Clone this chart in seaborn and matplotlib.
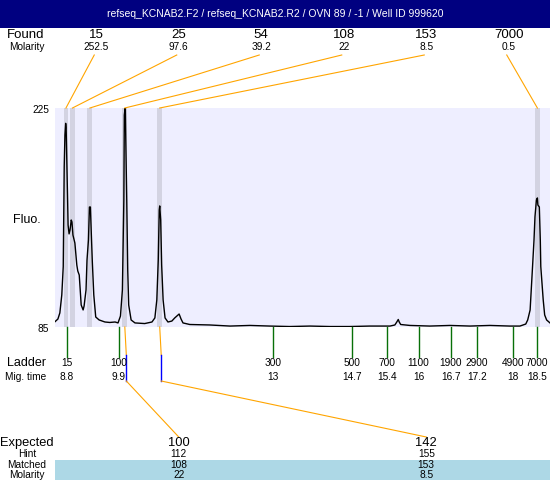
import numpy as np
import pandas as pd
import seaborn as sns
import matplotlib.pyplot as plt
from matplotlib.patches import Rectangle

# electropherogram trace (migration time in min, fluorescence)
trace_time = [8.56, 8.62, 8.66, 8.70, 8.73, 8.75, 8.765, 8.78, 8.79, 8.82, 8.83, 8.85,
              8.87, 8.895, 8.91, 8.93, 8.97, 9.01, 9.03, 9.06, 9.08, 9.10, 9.14, 9.16,
              9.20, 9.22, 9.25, 9.27, 9.29, 9.31, 9.33, 9.36, 9.40, 9.47, 9.59, 9.69,
              9.80, 9.86, 9.91, 9.95, 9.98, 9.99, 10.01, 10.02, 10.04, 10.06, 10.08, 10.13,
              10.21, 10.41, 10.56, 10.62, 10.66, 10.69, 10.71, 10.72, 10.74, 10.76, 10.79, 10.83,
              10.89, 10.97, 11.03, 11.12, 11.16, 11.20, 11.34, 11.75, 12.17, 12.58, 12.99, 13.40,
              13.82, 14.23, 14.64, 15.05, 15.47, 15.57, 15.61, 15.64, 15.66, 15.69, 15.88, 16.29,
              16.71, 17.12, 17.53, 17.94, 18.15, 18.27, 18.31, 18.36, 18.41, 18.44, 18.46, 18.49,
              18.51, 18.52, 18.55, 18.57, 18.58, 18.63, 18.66, 18.70, 18.77]
trace_fluo = [88.4, 90.1, 94.0, 105.5, 123.6, 187.5, 207.8, 215.2, 212.2, 166.2, 150.2, 144.5,
              147.0, 153.4, 152.1, 143.8, 138.7, 124.6, 120.8, 118.2, 108.7, 99.1, 95.9, 98.4,
              108.7, 127.8, 140.6, 161.7, 161.7, 143.8, 126.6, 105.5, 91.4, 89.5, 88.2, 87.9,
              88.2, 87.6, 92.0, 108.7, 166.2, 220.5, 226.0, 204.6, 166.2, 121.4, 99.1, 89.5,
              87.6, 87.2, 88.2, 90.8, 102.3, 127.8, 159.8, 162.4, 153.4, 124.6, 102.3, 90.8,
              88.2, 88.8, 90.8, 93.3, 90.1, 87.6, 86.6, 86.3, 85.6, 86.0, 85.6, 85.3,
              85.6, 85.3, 85.3, 85.6, 85.6, 86.3, 88.2, 89.8, 88.2, 86.6, 86.0, 85.6,
              86.0, 85.6, 86.0, 85.6, 85.6, 86.9, 89.5, 95.9, 123.6, 140.6, 155.5, 166.2,
              167.5, 163.0, 161.7, 140.6, 123.6, 102.3, 92.7, 89.5, 87.6]

found_size = ["15", "25", "54", "108", "153", "7000"]
found_molarity = ["252.5", "97.6", "39.2", "22", "8.5", "0.5"]
found_time = [8.786, 8.92, 9.28, 10.0, 10.72, 18.51]

ladder_size = ["15", "100", "300", "500", "700", "1100", "1900", "2900", "4900", "7000"]
ladder_time = [8.8, 9.88, 13.05, 14.68, 15.4, 16.06, 16.72, 17.26, 18.0, 18.5]
mig_time_text = ["8.8", "9.9", "13", "14.7", "15.4", "16", "16.7", "17.2", "18", "18.5"]

expected_size = ["100", "142"]
hint_size = ["112", "155"]
matched_size = ["108", "153"]
matched_molarity = ["22", "8.5"]
matched_peak = [3, 4]  # index into found_*

title = "refseq_KCNAB2.F2 / refseq_KCNAB2.R2 / OVN 89 / -1 / Well ID 999620"

plt.rcParams['font.family'] = ['Liberation Sans', 'DejaVu Sans']

W, H = 550, 480
fig = plt.figure(figsize=(5.5, 4.8), dpi=100)
fig.patch.set_facecolor("white")

# trace panel
ax = fig.add_axes([55 / W, (H - 327) / H, 495 / W, 219 / H])
ax.set_facecolor("#EEEEFF")
ax.set_xlim(8.56, 18.77)
ax.set_ylim(85, 225)
for t in found_time:
    ax.axvspan(t - 0.05, t + 0.05, color="#D3D3E2", lw=0)
df = pd.DataFrame({"time": trace_time, "fluo": trace_fluo})
sns.lineplot(data=df, x="time", y="fluo", ax=ax, color="black", lw=1,
             sort=False, estimator=None)
ax.set_xticks([])
ax.set_yticks([])
ax.set_xlabel("")
ax.set_ylabel("")
for s in ax.spines.values():
    s.set_visible(False)

# overlay in pixel coordinates for the annotation rows
ov = fig.add_axes([0, 0, 1, 1], zorder=3)
ov.set_xlim(0, W)
ov.set_ylim(H, 0)
ov.axis("off")
ov.patch.set_visible(False)


def px(t):
    p = ax.transData.transform((t, 85))
    return ov.transData.inverted().transform(p)[0]


ov.add_patch(Rectangle((0, 0), W, 28, color="#000080", lw=0))
ov.text(W / 2, 14, title, color="white", ha="center", va="center", fontsize=7.5)

small = 7.3
# found row
ov.text(26, 35, "Found", ha="center", va="center", fontsize=9.5)
ov.text(27, 47, "Molarity", ha="center", va="center", fontsize=small)
n = len(found_size)
for i in range(n):
    lx = 55 + 495 * (i + 0.5) / n
    ov.text(lx, 35, found_size[i], ha="center", va="center", fontsize=9.5)
    ov.text(lx, 47, found_molarity[i], ha="center", va="center", fontsize=small)
    ov.plot([lx - 2, px(found_time[i])], [55, 108], color="#FFA500", lw=0.8)

# y labels
ov.text(49, 110, "225", ha="right", va="center", fontsize=small)
ov.text(49, 329, "85", ha="right", va="center", fontsize=small)
ov.text(27, 220, "Fluo.", ha="center", va="center", fontsize=9)

# ladder rows
ov.text(26, 363, "Ladder", ha="center", va="center", fontsize=9)
ov.text(26, 377, "Mig. time", ha="center", va="center", fontsize=small)
for s, t, m in zip(ladder_size, ladder_time, mig_time_text):
    x = px(t)
    ov.plot([x, x], [327, 357], color="#087008", lw=1)
    ov.text(x, 363, s, ha="center", va="center", fontsize=small)
    ov.text(x, 377, m, ha="center", va="center", fontsize=small)

# expected rows
ov.add_patch(Rectangle((55, 460), 495, 20, color="#ADD8E6", lw=0))
ov.text(27, 443, "Expected", ha="center", va="center", fontsize=9.3)
ov.text(27, 454, "Hint", ha="center", va="center", fontsize=small)
ov.text(27, 464.5, "Matched", ha="center", va="center", fontsize=small)
ov.text(27, 474.5, "Molarity", ha="center", va="center", fontsize=small)
m = len(expected_size)
for i in range(m):
    lx = 55 + 495 * (i + 0.5) / m
    x = px(found_time[matched_peak[i]]) + 1.5
    ov.plot([x - 1.5, x], [327, 355], color="#FFA500", lw=0.8)
    ov.plot([x, x], [355, 381], color="#0000FF", lw=1)
    ov.plot([x, lx], [381, 437], color="#FFA500", lw=0.8)
    ov.text(lx, 443, expected_size[i], ha="center", va="center", fontsize=9.3)
    ov.text(lx, 454, hint_size[i], ha="center", va="center", fontsize=small)
    ov.text(lx, 464.5, matched_size[i], ha="center", va="center", fontsize=small)
    ov.text(lx, 474.5, matched_molarity[i], ha="center", va="center", fontsize=small)

fig.savefig("out.png", dpi=100)
